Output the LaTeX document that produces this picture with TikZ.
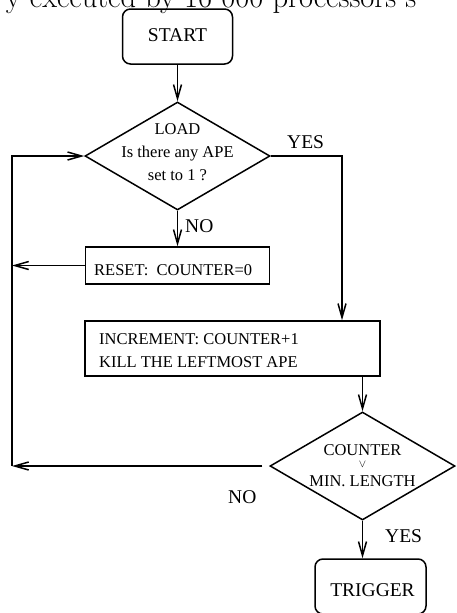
\documentclass[tikz,border=0pt]{standalone}
\usepackage{fontspec}
\newfontfamily\tmfont{Liberation Serif}
\usetikzlibrary{shapes.geometric,arrows.meta}
\begin{document}
\begin{tikzpicture}[x=1pt,y=-1pt,
  terminal/.style={draw, rectangle, rounded corners=8pt, minimum width=110pt,
                   minimum height=55pt, inner sep=0pt, line width=1.5pt},
  process/.style={draw, rectangle, inner sep=0pt, line width=1.5pt},
  decision/.style={draw, diamond, minimum width=185pt, minimum height=108pt,
                   inner sep=0pt, line width=1.5pt},
  txt/.style={font=\tmfont\fontsize{16.5}{20}\selectfont, inner sep=0pt},
  big/.style={font=\tmfont\fontsize{19.5}{24}\selectfont, inner sep=0pt},
  arr/.style={line width=1.5pt, -{Straight Barb[length=14pt,width=8pt]}},
  link/.style={line width=1.5pt}
]
\useasboundingbox (0,0) rectangle (457,613);
\clip (0,0) rectangle (457,613);

% running text of the page above the chart
\node[anchor=base west, font=\fontsize{30.5}{36}\selectfont, inner sep=0pt]
  (head) at (5.7,7.5) {y executed by 16 000 processors s};

% boxes and decisions
\node[terminal] (start) at (177.5,36.5) {};
\node[decision] (load) at (177.5,156) {};
\node[process, minimum width=184pt, minimum height=37pt] (reset) at (177.5,265.5) {};
\node[process, minimum width=295pt, minimum height=55pt] (incr) at (232.5,348.5) {};
\node[decision] (check) at (362.5,466) {};
\node[terminal, minimum width=111pt] (trigger) at (370.5,586.5) {};

% texts inside the shapes
\node[big, anchor=base] (starttxt) at (177.5,41.7) {START};
\node[txt, anchor=base] (loadA) at (177.5,134) {LOAD};
\node[txt, anchor=base] (loadB) at (177.5,157) {Is there any APE};
\node[txt, anchor=base] (loadC) at (177.5,180) {set to 1 ?};
\node[txt, anchor=base west] (resettxt) at (94,275) {RESET:\ \ COUNTER=0};
\node[txt, anchor=base west] (incrA) at (99,344) {INCREMENT: COUNTER+1};
\node[txt, anchor=base west] (incrB) at (99,367.5) {KILL THE LEFTMOST APE};
\node[txt, anchor=base] (checkA) at (362.5,455) {COUNTER};
\node[inner sep=0pt, anchor=base, font=\fontsize{11}{11}\selectfont] (checkB) at (362.5,467) {$\vee$};
\node[txt, anchor=base] (checkC) at (362.5,486.5) {MIN. LENGTH};
\node[big, anchor=base] (triggertxt) at (372.5,596) {TRIGGER};

% branch labels
\node[big, anchor=base west] (noA) at (185,232) {NO};
\node[big, anchor=base west] (yesA) at (287,148) {YES};
\node[big, anchor=base west] (noB) at (228,503) {NO};
\node[big, anchor=base west] (yesB) at (385,542) {YES};

% routing points
\coordinate (leftrail) at (12,0);
\coordinate (yesturn) at (342,156);

% connectors
\draw[arr] (start.south) -- (load.north);
\draw[arr] (load.south) -- (reset.north);
\draw[arr] (load.east) -- (yesturn) -- (yesturn |- incr.north);
\draw[arr] (reset.west) -- (reset.west -| leftrail);
\draw[arr] (incr.south -| check.north) -- (check.north);
\draw[arr] (check.south) -- (check.south |- trigger.north);
\draw[arr] ([xshift=-7pt]check.west) -- (check.west -| leftrail);
\draw[arr] (check.west -| leftrail) -- (load.west -| leftrail) -- (load.west);
\end{tikzpicture}
\end{document}
